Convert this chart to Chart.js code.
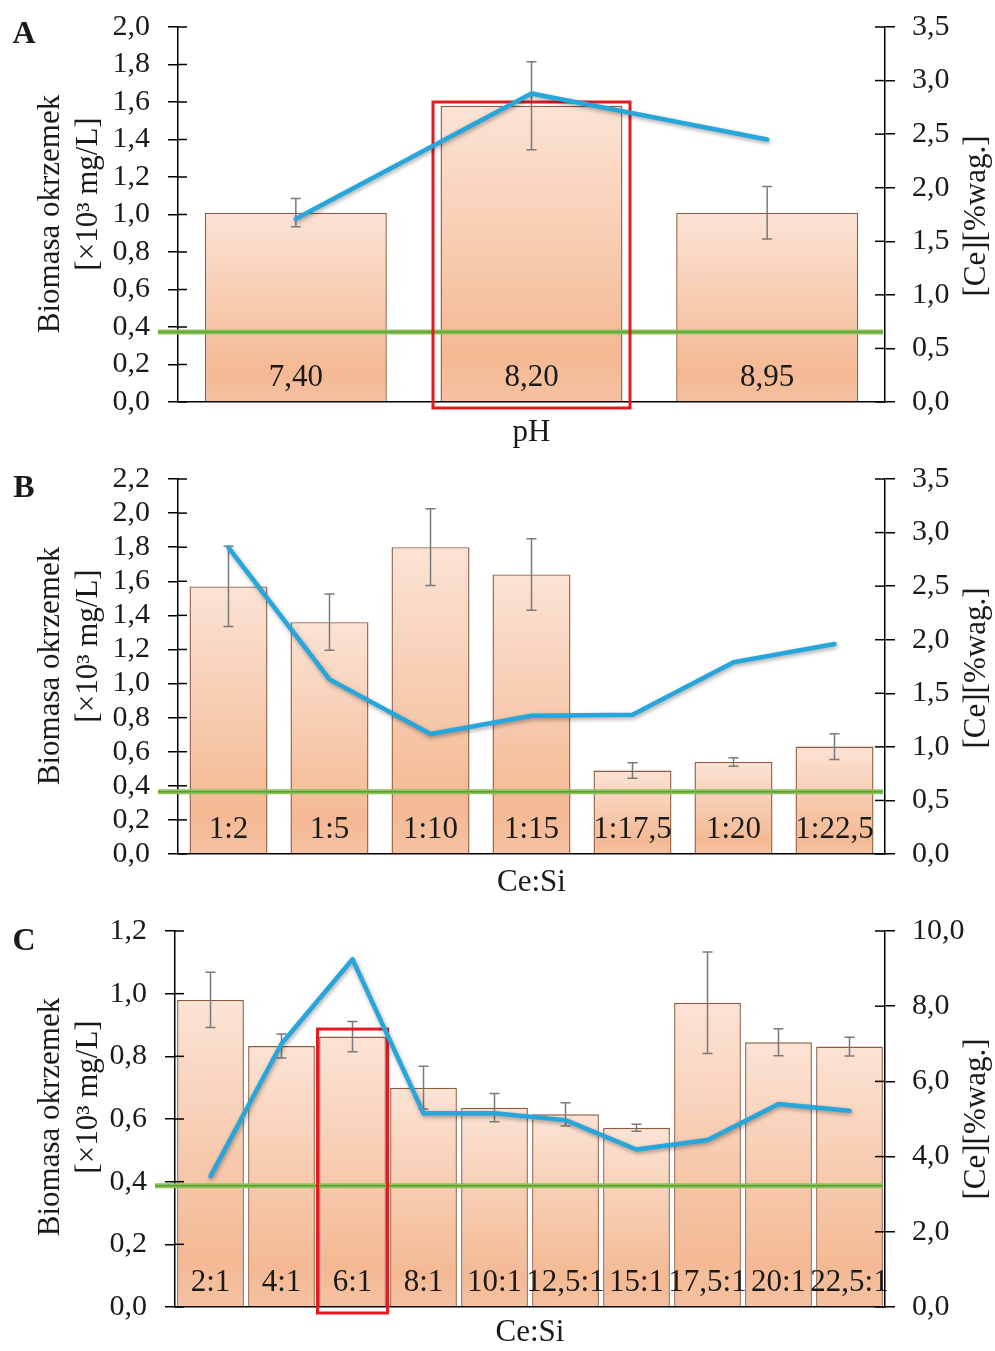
<!DOCTYPE html>
<html>
<head>
<meta charset="utf-8">
<script src="https://cdn.jsdelivr.net/npm/chart.js@4.4.0/dist/chart.umd.min.js"></script>
<style>
  html, body { margin: 0; padding: 0; background: #fff; }
  #wrap { position: relative; width: 995px; height: 1351px; }
  canvas { position: absolute; left: 0; }
</style>
</head>
<body>
<div id="wrap">
  <canvas id="chartA" width="995" height="450" style="top:0"></canvas>
  <canvas id="chartB" width="995" height="450" style="top:450px"></canvas>
  <canvas id="chartC" width="995" height="451" style="top:900px"></canvas>
</div>
<script>
// --- data ---
// A: pH
const catsA = ["7,40", "8,20", "8,95"];
const biomassA = [1.01, 1.58, 1.01];
const errA = [0.075, 0.235, 0.14];
const ceA = [1.71, 2.88, 2.45];
const levelA = 0.373;

// B: Ce:Si
const catsB = ["1:2", "1:5", "1:10", "1:15", "1:17,5", "1:20", "1:22,5"];
const biomassB = [1.57, 1.36, 1.80, 1.64, 0.49, 0.54, 0.63];
const errB = [0.235, 0.165, 0.225, 0.21, 0.045, 0.025, 0.075];
const ceB = [2.86, 1.63, 1.12, 1.29, 1.30, 1.79, 1.96];
const levelB = 0.365;

// C: Ce:Si
const catsC = ["2:1", "4:1", "6:1", "8:1", "10:1", "12,5:1", "15:1", "17,5:1", "20:1", "22,5:1"];
const biomassC = [0.98, 0.833, 0.863, 0.70, 0.636, 0.615, 0.572, 0.971, 0.845, 0.831];
const errC = [0.088, 0.038, 0.048, 0.068, 0.045, 0.037, 0.011, 0.162, 0.043, 0.03];
const ceC = [3.48, 7.0, 9.25, 5.15, 5.15, 4.97, 4.19, 4.44, 5.40, 5.22];
const levelC = 0.387;

const SERIF = "'Liberation Serif', 'Times New Roman', serif";
const comma = v => Number(v).toFixed(1).replace(".", ",");

function panel(id, p) {
  const canvas = document.getElementById(id);
  const H = canvas.height;

  const deco = {
    id: "deco",
    beforeDatasetDraw(chart, args) {
      if (args.index === 0) {
        const c = chart.ctx;
        c.save();
        c.shadowColor = "rgba(0,0,0,0.35)";
        c.shadowBlur = 4;
        c.shadowOffsetX = 1;
        c.shadowOffsetY = 2;
      }
    },
    afterDatasetDraw(chart, args) {
      const c = chart.ctx;
      if (args.index === 0) { c.restore(); return; }
      const x = chart.scales.x, y = chart.scales.y, a = chart.chartArea;
      c.save();
      // error bars
      c.strokeStyle = "#7a7a7a";
      c.lineWidth = 1.5;
      p.bio.forEach((v, i) => {
        const px = x.getPixelForValue(i);
        const t = y.getPixelForValue(v + p.err[i]);
        const b = y.getPixelForValue(v - p.err[i]);
        c.beginPath();
        c.moveTo(px, t); c.lineTo(px, b);
        c.moveTo(px - 5, t); c.lineTo(px + 5, t);
        c.moveTo(px - 5, b); c.lineTo(px + 5, b);
        c.stroke();
      });
      // category labels inside the bars
      c.fillStyle = "#1a1a1a";
      c.font = "31px " + SERIF;
      c.textAlign = "center";
      c.textBaseline = "alphabetic";
      p.cats.forEach((s, i) => c.fillText(s, x.getPixelForValue(i), a.bottom - 16));
      // green reference level
      const gy = y.getPixelForValue(p.level);
      c.lineCap = "butt";
      c.strokeStyle = "#8cc25a";
      c.lineWidth = 5;
      c.beginPath(); c.moveTo(a.left - 20, gy); c.lineTo(a.right - 2, gy); c.stroke();
      c.strokeStyle = "#5f9e34";
      c.lineWidth = 1.5;
      c.beginPath(); c.moveTo(a.left - 20, gy); c.lineTo(a.right - 2, gy); c.stroke();
      // red highlight box
      if (p.box) {
        const cx = x.getPixelForValue(p.box.index);
        const hw = (a.right - a.left) / p.cats.length * p.box.frac / 2;
        const ty = y.getPixelForValue(p.box.top);
        c.strokeStyle = "#e01b22";
        c.lineWidth = 3;
        c.strokeRect(cx - hw, ty, hw * 2, a.bottom + 6 - ty);
      }
      c.restore();
    },
    afterDraw(chart) {
      const c = chart.ctx, a = chart.chartArea;
      c.save();
      // inner halves of the crossing ticks
      c.strokeStyle = "#000";
      c.lineWidth = 1.5;
      const y = chart.scales.y, y1 = chart.scales.y1;
      y.ticks.forEach(t => {
        const py = y.getPixelForValue(t.value);
        c.beginPath(); c.moveTo(a.left, py); c.lineTo(a.left + 9, py); c.stroke();
      });
      y1.ticks.forEach(t => {
        const py = y1.getPixelForValue(t.value);
        c.beginPath(); c.moveTo(a.right - 10, py); c.lineTo(a.right, py); c.stroke();
      });
      c.fillStyle = "#1a1a1a";
      // panel letter
      c.font = "bold 32px " + SERIF;
      c.textAlign = "center";
      c.textBaseline = "alphabetic";
      c.fillText(p.letter, 24, p.letterY);
      // x title
      c.font = "31px " + SERIF;
      c.fillText(p.xTitle, (a.left + a.right) / 2, 441);
      // rotated y titles
      c.textBaseline = "middle";
      const rot = (txt, cx, cy) => {
        c.save(); c.translate(cx, cy); c.rotate(-Math.PI / 2); c.fillText(txt, 0, 0); c.restore();
      };
      rot("Biomasa okrzemek", 51, p.t1);
      rot("[×10³ mg/L]", 89, p.t1 - 20);
      rot("[Ce][%wag.]", 977, p.t1 + 2);
      c.restore();
    }
  };

  const barFill = ctx => {
    const ch = ctx.chart;
    if (!ch.chartArea || ctx.raw === undefined) return "#f6c6a8";
    const ys = ch.scales.y;
    const top = ys.getPixelForValue(ctx.raw), bot = ys.getPixelForValue(0);
    const g = ch.ctx.createLinearGradient(0, top, 0, bot);
    g.addColorStop(0, "#fbe3d5");
    g.addColorStop(0.85, "#f4b993");
    g.addColorStop(1, "#f5c2a2");
    return g;
  };

  const tickFont = { family: SERIF, size: 30 };
  const noPad = s => { s.paddingTop = 0; s.paddingBottom = 0; s.paddingLeft = 0; s.paddingRight = 0; };

  return new Chart(canvas, {
    data: {
      labels: p.cats,
      datasets: [
        {
          type: "line", data: p.ce, yAxisID: "y1", order: 0,
          borderColor: "#27a6dc", borderWidth: 4.5, pointRadius: 0, tension: 0,
          borderJoinStyle: "round", borderCapStyle: "round"
        },
        {
          type: "bar", data: p.bio, yAxisID: "y", order: 1,
          backgroundColor: barFill, borderColor: "#8d5a3d", borderWidth: 1.4,
          barPercentage: p.barPct, categoryPercentage: 1
        }
      ]
    },
    options: {
      responsive: false,
      animation: false,
      devicePixelRatio: 1,
      layout: { padding: { top: p.top, left: 0, right: 0, bottom: 0 } },
      plugins: { legend: { display: false }, tooltip: { enabled: false } },
      scales: {
        x: {
          offset: true,
          grid: { display: false },
          border: { display: true, color: "#000", width: 1.5 },
          ticks: { display: false },
          afterFit: s => { s.height = H - p.bottom; noPad(s); }
        },
        y: {
          position: "left", min: 0, max: p.yMax,
          ticks: { stepSize: p.yStep, autoSkip: false, callback: comma, font: tickFont, color: "#1a1a1a", padding: 18 },
          grid: { drawOnChartArea: false, drawTicks: true, tickLength: 10, color: "#000", lineWidth: 1.5 },
          border: { color: "#000", width: 1.5 },
          afterFit: s => { s.width = p.left; noPad(s); }
        },
        y1: {
          position: "right", min: 0, max: p.y1Max,
          ticks: { stepSize: p.y1Step, autoSkip: false, callback: comma, font: tickFont, color: "#1a1a1a", padding: 17 },
          grid: { drawOnChartArea: false, drawTicks: true, tickLength: 10, color: "#000", lineWidth: 1.5 },
          border: { color: "#000", width: 1.5 },
          afterFit: s => { s.width = 995 - p.right; noPad(s); }
        }
      }
    },
    plugins: [deco]
  });
}

panel("chartA", {
  cats: catsA, bio: biomassA, err: errA, ce: ceA, level: levelA,
  yMax: 2.0, yStep: 0.2, y1Max: 3.5, y1Step: 0.5,
  top: 27, bottom: 402, left: 178, right: 885, barPct: 0.772,
  box: { index: 1, top: 1.60, frac: 0.836 },
  letter: "A", letterY: 43, xTitle: "pH", t1: 214
});

panel("chartB", {
  cats: catsB, bio: biomassB, err: errB, ce: ceB, level: levelB,
  yMax: 2.2, yStep: 0.2, y1Max: 3.5, y1Step: 0.5,
  top: 29, bottom: 404, left: 178, right: 885, barPct: 0.772,
  box: null,
  letter: "B", letterY: 47, xTitle: "Ce:Si", t1: 216
});

panel("chartC", {
  cats: catsC, bio: biomassC, err: errC, ce: ceC, level: levelC,
  yMax: 1.2, yStep: 0.2, y1Max: 10, y1Step: 2,
  top: 31, bottom: 407, left: 175, right: 885, barPct: 0.94,
  box: { index: 2, top: 0.887, frac: 0.986 },
  letter: "C", letterY: 50, xTitle: "Ce:Si", t1: 217
});
</script>
</body>
</html>
